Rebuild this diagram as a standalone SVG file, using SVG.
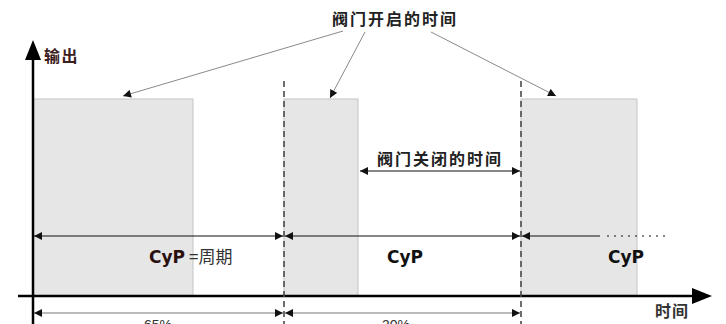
<svg xmlns="http://www.w3.org/2000/svg" width="726" height="324" viewBox="0 0 726 324">
<defs>
<marker id="ah" viewBox="0 0 10 10" refX="10" refY="5" markerWidth="9" markerHeight="8" markerUnits="userSpaceOnUse" orient="auto-start-reverse">
<path d="M0,0 L10,5 L0,10 Z" fill="#111"/>
</marker>
<marker id="ahp" viewBox="0 0 10 10" refX="10" refY="5" markerWidth="11" markerHeight="9" markerUnits="userSpaceOnUse" orient="auto">
<path d="M0,0 L10,5 L0,10 Z" fill="#111"/>
</marker>
</defs>
<style>
.bar{fill:#e6e6e6;stroke:#c4c4c4;stroke-width:1}
.axis{stroke:#000;stroke-width:2.5;fill:none}
.dash{stroke:#4a4a4a;stroke-width:1.6;stroke-dasharray:6 4;fill:none}
.dim{stroke:#111;stroke-width:1.2;fill:none}
.dim2{stroke:#777;stroke-width:1.2;fill:none}
.ptr{stroke:#8a8a8a;stroke-width:1;fill:none}
.cjk{font-family:"Noto Sans CJK SC","Noto Sans",sans-serif;font-size:16px;font-weight:bold;fill:#222;letter-spacing:2px}
.cyp{font-family:"DejaVu Sans",Verdana,sans-serif;font-size:17px;font-weight:bold;fill:#111}
.pct{font-family:"Liberation Sans",Arial,sans-serif;font-size:14px;fill:#333}
</style>
<rect width="726" height="324" fill="#fff"/>
<g id="bar1"><rect class="bar" x="33" y="99" width="160" height="197"/></g>
<g id="bar2"><rect class="bar" x="284" y="99" width="74" height="197"/></g>
<g id="bar3"><rect class="bar" x="521" y="99" width="116" height="197"/></g>
<g id="axes">
<line class="axis" x1="33" y1="56" x2="33" y2="324"/>
<path d="M33,40 L25,60 L41,60 Z" fill="#000"/>
<line class="axis" x1="18" y1="296" x2="694" y2="296"/>
<path d="M712,296 L692,288 L692,304 Z" fill="#000"/>
<text x="44" y="62" class="cjk" style="fill:#3a2020;letter-spacing:1.5px">输出</text>
<text x="655" y="317" class="cjk" style="fill:#333;letter-spacing:1px">时间</text>
</g>
<g id="connectors">
<line class="dash" x1="284" y1="81" x2="284" y2="324"/>
<line class="dash" x1="521" y1="81" x2="521" y2="324"/>
<line class="ptr" x1="343" y1="31" x2="123" y2="96" marker-end="url(#ah)"/>
<line class="ptr" x1="365" y1="32" x2="330" y2="98" marker-end="url(#ah)"/>
<line class="ptr" x1="431" y1="32" x2="556" y2="96" marker-end="url(#ah)"/>
<line class="dim" x1="360" y1="171" x2="520" y2="171" marker-start="url(#ah)" marker-end="url(#ah)"/>
<line class="dim" x1="34" y1="236" x2="283" y2="236" marker-start="url(#ah)" marker-end="url(#ah)"/>
<line class="dim" x1="285" y1="236" x2="520" y2="236" marker-start="url(#ah)" marker-end="url(#ah)"/>
<line class="dim" x1="522" y1="236" x2="600" y2="236" marker-start="url(#ah)"/>
<line class="dim" x1="607" y1="236" x2="668" y2="236" stroke-dasharray="2 5"/>
<line class="dim2" x1="34" y1="313" x2="283" y2="313" marker-start="url(#ah)" marker-end="url(#ah)"/>
<line class="dim2" x1="285" y1="313" x2="520" y2="313" marker-start="url(#ah)" marker-end="url(#ah)"/>
</g>
<g id="labels">
<text x="332" y="25" class="cjk">阀门开启的时间</text>
<text x="377" y="165" class="cjk">阀门关闭的时间</text>
<text x="149" y="263" class="cyp" style="fill:#2a1010">CyP</text>
<text x="189" y="263" class="cjk" style="font-weight:normal;fill:#333;letter-spacing:0;font-size:17px">=周期</text>
<text x="387" y="263" class="cyp">CyP</text>
<text x="608" y="263" class="cyp">CyP</text>
<text x="144" y="330" class="pct">65%</text>
<text x="382" y="330" class="pct">30%</text>
</g>
</svg>
